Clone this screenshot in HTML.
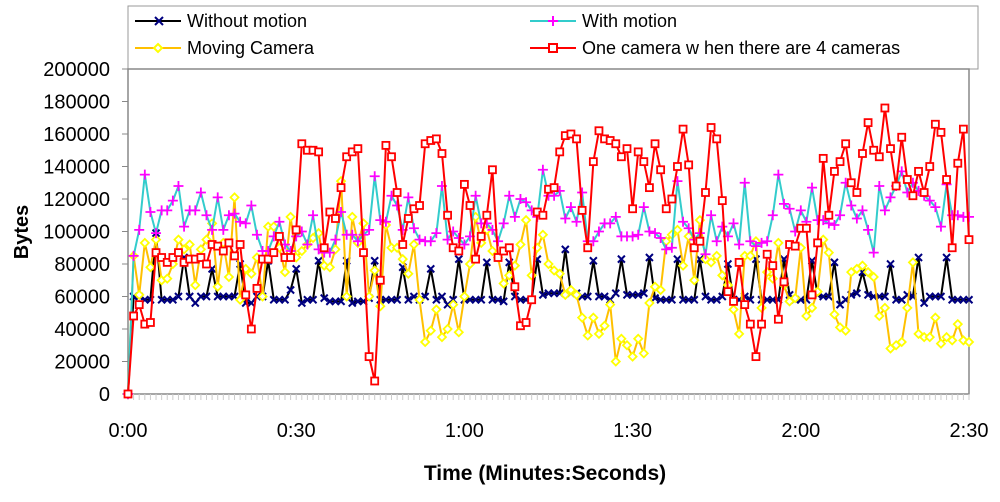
<!DOCTYPE html>
<html><head><meta charset="utf-8"><style>
body{margin:0;background:#fff;width:1000px;height:497px;overflow:hidden;font-family:"Liberation Sans",Arial,sans-serif;}
</style></head><body>
<svg id="chart" width="1000" height="497" xmlns="http://www.w3.org/2000/svg" font-family="Liberation Sans, Arial, sans-serif">
<rect x="128" y="6" width="850" height="63" fill="#fff" stroke="#999" stroke-width="1"/>
<rect x="128" y="69" width="841" height="325" fill="#fff" stroke="#888" stroke-width="1.5"/>
<g id="yaxis"></g>
<g id="xaxis"></g>
<g id="series"></g>
<text x="28" y="232" font-size="20" font-weight="bold" text-anchor="middle" transform="rotate(-90 28 232)">Bytes</text>
<text x="545" y="480" font-size="21" font-weight="bold" text-anchor="middle">Time (Minutes:Seconds)</text>
<g font-size="18">
 <g>
  <line x1="135" y1="21" x2="181" y2="21" stroke="#000" stroke-width="2"/>
  <path d="M155,17 l8,8 M163,17 l-8,8" stroke="#000080" stroke-width="2"/>
  <text x="187" y="27">Without motion</text></g>
 <g>
  <line x1="135" y1="48" x2="181" y2="48" stroke="#ffc000" stroke-width="2"/>
  <path d="M158,44 l4,4 -4,4 -4,-4z" fill="#fff" stroke="#ffff00" stroke-width="2"/>
  <text x="187" y="54">Moving Camera</text></g>
 <g>
  <line x1="530" y1="21" x2="576" y2="21" stroke="#33cccc" stroke-width="2"/>
  <path d="M553,16 v10 M548,21 h10" stroke="#ff00ff" stroke-width="2"/>
  <text x="582" y="27">With motion</text></g>
 <g>
  <line x1="530" y1="48" x2="576" y2="48" stroke="#ff0000" stroke-width="2"/>
  <rect x="549" y="44" width="8" height="8" fill="#fff" stroke="#ff0000" stroke-width="2"/>
  <text x="582" y="54">One camera w hen there are 4 cameras</text></g>
</g>
</svg>
<script>
const yTicks=[0,20000,40000,60000,80000,100000,120000,140000,160000,180000,200000];
const xTickLabels=["0:00","0:30","1:00","1:30","2:00","2:30"];
const xTickSeconds=[0,30,60,90,120,150];
const withoutMotion=[0,60,60,58,58,99,58,58,58,60,84,60,56,60,60,77,60,60,60,60,80,56,56,60,60,82,58,58,58,64,77,56,58,58,82,59,57,57,57,82,56,57,57,59,82,58,58,58,58,78,58,60,58,60,77,58,60,55,58,83,58,58,58,58,81,58,58,57,81,60,58,58,58,83,61,62,62,62,89,62,62,60,60,82,60,60,58,62,83,61,61,61,62,84,59,58,58,58,83,58,58,58,83,60,58,58,60,80,58,58,60,58,83,58,58,58,58,83,61,58,58,58,82,61,60,60,81,55,58,61,62,75,61,60,60,60,80,58,58,61,60,84,56,60,60,60,84,58,58,58,58];
const movingCamera=[0,85,61,93,78,95,70,71,80,95,89,92,67,89,95,105,66,93,72,121,58,77,74,84,60,103,103,90,75,109,84,88,92,96,99,79,78,89,131,60,109,93,105,60,76,54,104,90,90,83,74,92,58,32,39,52,35,40,55,38,60,80,109,93,101,88,84,68,73,79,92,107,73,90,98,80,76,74,61,64,61,47,36,47,37,42,55,20,34,30,23,34,25,56,66,64,94,98,101,79,97,70,107,83,81,85,73,67,52,37,85,85,94,53,75,71,93,67,57,59,90,48,53,63,95,87,49,41,39,75,77,79,75,72,48,53,28,30,32,53,81,37,35,35,47,31,35,33,43,33,32];
const withMotion=[0,85,101,135,112,99,113,113,119,128,103,113,113,124,110,101,121,101,110,111,106,105,116,98,88,88,97,106,92,88,97,100,92,110,89,87,87,95,112,98,98,94,98,101,134,107,106,122,116,101,121,102,95,94,94,99,128,95,100,96,92,97,122,105,105,101,94,105,122,109,120,118,113,109,138,122,122,125,108,115,106,124,94,94,100,105,105,109,97,97,97,98,115,100,99,96,89,90,131,106,102,95,99,86,110,94,103,97,105,92,130,94,91,93,94,110,135,117,114,100,113,106,127,107,107,105,104,110,130,116,108,113,101,87,128,113,121,128,137,124,130,125,122,119,115,103,129,110,110,109,109];
const oneOfFour=[0,48,55,43,44,87,84,81,84,87,81,83,83,84,80,92,91,88,93,85,92,61,40,65,83,83,87,97,84,84,101,154,150,150,149,90,112,108,127,146,149,151,87,23,8,70,153,146,124,92,108,114,116,154,156,157,148,110,90,88,129,116,83,97,110,138,84,88,90,66,42,44,58,112,110,126,127,149,159,160,157,113,90,143,162,157,156,154,146,151,114,149,143,127,154,138,114,120,140,163,141,90,94,124,164,157,119,63,57,81,55,43,23,43,86,79,46,69,92,91,102,102,61,93,145,110,137,143,154,130,124,148,167,150,146,176,151,128,158,132,122,137,124,140,166,161,132,90,142,163,95];

const NS="http://www.w3.org/2000/svg";
const X0=128,X1=969,Y0=394,Y1=69,TMAX=150,VMAX=200000;
const xs=t=>X0+(X1-X0)*t/TMAX;
const ys=v=>Y0-(Y0-Y1)*v/VMAX;
function mk(tag,attrs,parent){const e=document.createElementNS(NS,tag);for(const k in attrs)e.setAttribute(k,attrs[k]);parent.appendChild(e);return e;}
const yax=document.getElementById('yaxis'),xax=document.getElementById('xaxis'),sg=document.getElementById('series');
yTicks.forEach(v=>{
  const l=mk('line',{x1:X0-6,x2:X0,y1:ys(v),y2:ys(v),stroke:'#888'},yax);
  
  
  const t=mk('text',{x:110,y:ys(v)+7,'font-size':20,'text-anchor':'end'},yax);
  t.textContent=v;
  
  
});
for(let s=0;s<=TMAX;s++){
  const l=mk('line',{x1:xs(s),x2:xs(s),y1:Y0,y2:Y0+6,stroke:'#ccc'},xax);
  
  
}
xTickSeconds.forEach((s,i)=>{
  const t=mk('text',{x:xs(s),y:437,'font-size':20,'text-anchor':'middle'},xax);
  t.textContent=xTickLabels[i];
  
  
});
function drawSeries(data,name,lineColor,marker){
  const g=mk('g',{},sg);
  
  
  const pts=data.map((v,i)=>xs(i).toFixed(1)+','+ys(v*1000).toFixed(1)).join(' ');
  const pl=mk('polyline',{points:pts,fill:'none',stroke:lineColor,'stroke-width':2,'stroke-linejoin':'round'},g);
  
  
  data.forEach((v,i)=>{
    const x=xs(i),y=ys(v*1000);let m;
    if(marker==='x')m=mk('path',{d:`M${x-3.5},${y-3.5}l7,7M${x+3.5},${y-3.5}l-7,7`,stroke:'#000080','stroke-width':2},g);
    else if(marker==='d')m=mk('path',{d:`M${x},${y-4}l4,4-4,4-4-4z`,fill:'#fff',stroke:'#ffff00','stroke-width':1.8},g);
    else if(marker==='p')m=mk('path',{d:`M${x},${y-5}v10M${x-5},${y}h10`,stroke:'#ff00ff','stroke-width':1.8},g);
    else m=mk('rect',{x:x-3.5,y:y-3.5,width:7,height:7,fill:'#fff',stroke:'#ff0000','stroke-width':1.8},g);
    
    
  });
}
drawSeries(withoutMotion,'without-motion','#000','x');
drawSeries(movingCamera,'moving-camera','#ffc000','d');
drawSeries(withMotion,'with-motion','#33cccc','p');
drawSeries(oneOfFour,'one-camera-of-four','#ff0000','s');
</script>
</body></html>
